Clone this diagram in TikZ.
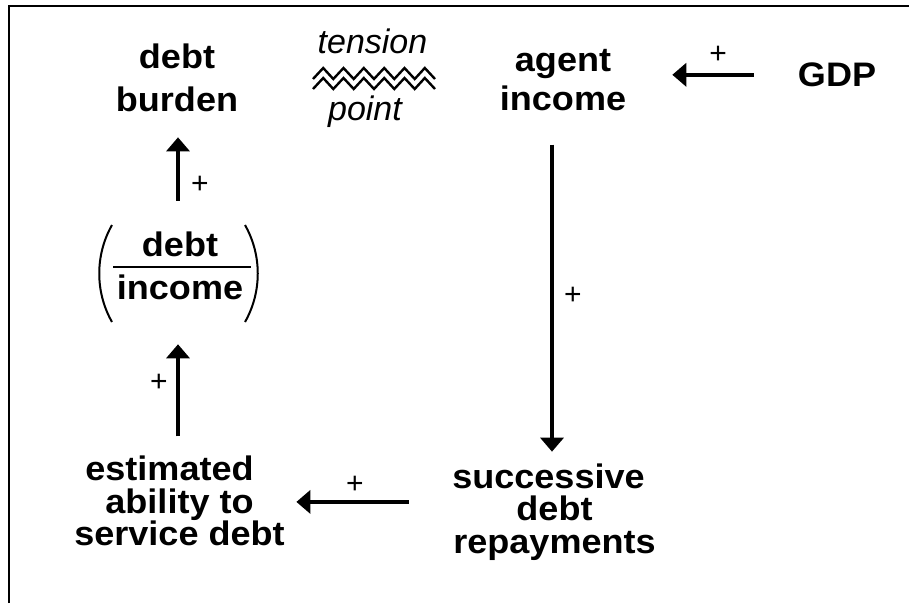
\documentclass[tikz,border=0pt]{standalone}
\usepackage{fontspec}
\usetikzlibrary{arrows.meta,calc}
\newfontfamily\dfont[FakeStretch=1.06]{Liberation Sans}
\newfontfamily\tfont{Liberation Sans}
\begin{document}
\begin{tikzpicture}[x=1pt,y=-1pt,
  lbl/.style={inner sep=0pt, align=center, font=\dfont\bfseries\fontsize{34}{42.5}\selectfont},
  arr/.style={line width=3.5pt, -{Triangle[length=14pt,width=23pt]}},
  plus/.style={inner sep=0pt, font=\tfont\fontsize{30}{30}\selectfont},
  ital/.style={inner sep=0pt, anchor=base, font=\tfont\itshape\fontsize{34}{34}\selectfont},
  frame/.style={line width=2pt},
  wave/.style={line width=2.4pt}]
\useasboundingbox (0,0) rectangle (909,603);
\draw[frame] (9,603) -- (9,6) -- (909,6);

% nodes
\node[lbl] (burden) at (177,77.9) {debt\\burden};
\node[lbl, font=\dfont\bfseries\fontsize{34}{39}\selectfont] (agent) at (563,80.1) {agent\\income};
\node[lbl, anchor=base] (gdp) at (837,86.5) {GDP};
\node[lbl, font=\dfont\bfseries\fontsize{34}{43}\selectfont] (frac) at (180,266.1) {debt\\income};
\node[lbl, font=\dfont\bfseries\fontsize{34}{32.5}\selectfont] (est) at (179.5,501.1)
  {estimated\hspace*{20pt}\\ability to\hspace*{16pt}\\service debt};
\node[lbl, font=\dfont\bfseries\fontsize{34}{32.5}\selectfont] (succ) at (554.5,511.9)
  {successive\hspace*{12pt}\\debt\hspace*{38pt}\\repayments};
\node[ital] (tens) at (372.5,53) {tension};
\node[ital] (pnt) at (365,120) {point};

% fraction bar and parentheses
\draw[line width=1.6pt] (113,267) -- (251,267);
\draw[line width=2pt] (112,225) .. controls (95,255) and (95,292) .. (112,322);
\draw[line width=2pt] (245,225) .. controls (262,255) and (262,292) .. (245,322);

% tension zigzags
\draw[wave] (313,79) -- (323.2,68) -- (333.3,79) -- (343.5,68) -- (353.7,79) -- (363.8,68) -- (374,79)
  -- (384.2,68) -- (394.3,79) -- (404.5,68) -- (414.7,79) -- (424.8,68) -- (435,79);
\draw[wave] (313,89) -- (323.2,78) -- (333.3,89) -- (343.5,78) -- (353.7,89) -- (363.8,78) -- (374,89)
  -- (384.2,78) -- (394.3,89) -- (404.5,78) -- (414.7,89) -- (424.8,78) -- (435,89);

% connectors
\draw[arr, shorten <=44pt, shorten >=46pt] (gdp.west) -- (gdp.west -| agent.east);
\draw[arr, shorten <=33.5pt, shorten >=11.7pt] ([xshift=-2.5pt]succ.north |- agent.south) -- ([xshift=-2.5pt]succ.north);
\draw[arr, shorten <=43.5pt, shorten >=11.5pt] ([yshift=10pt]succ.west) -- ([yshift=10pt]succ.west -| est.east);
\draw[arr, shorten <=19.5pt, shorten >=44pt] ([xshift=-1.5pt]est.north) -- ([xshift=-1.5pt]est.north |- frac.south);
\draw[arr, shorten <=31pt, shorten >=25.5pt] ([xshift=-2pt]frac.north) -- ([xshift=-2pt]frac.north |- burden.south);

% plus labels
\node[plus] (p1) at (718,55) {+};
\node[plus] (p2) at (200,185) {+};
\node[plus] (p3) at (159,383) {+};
\node[plus] (p4) at (355,485) {+};
\node[plus] (p5) at (573,296) {+};
\end{tikzpicture}
\end{document}
